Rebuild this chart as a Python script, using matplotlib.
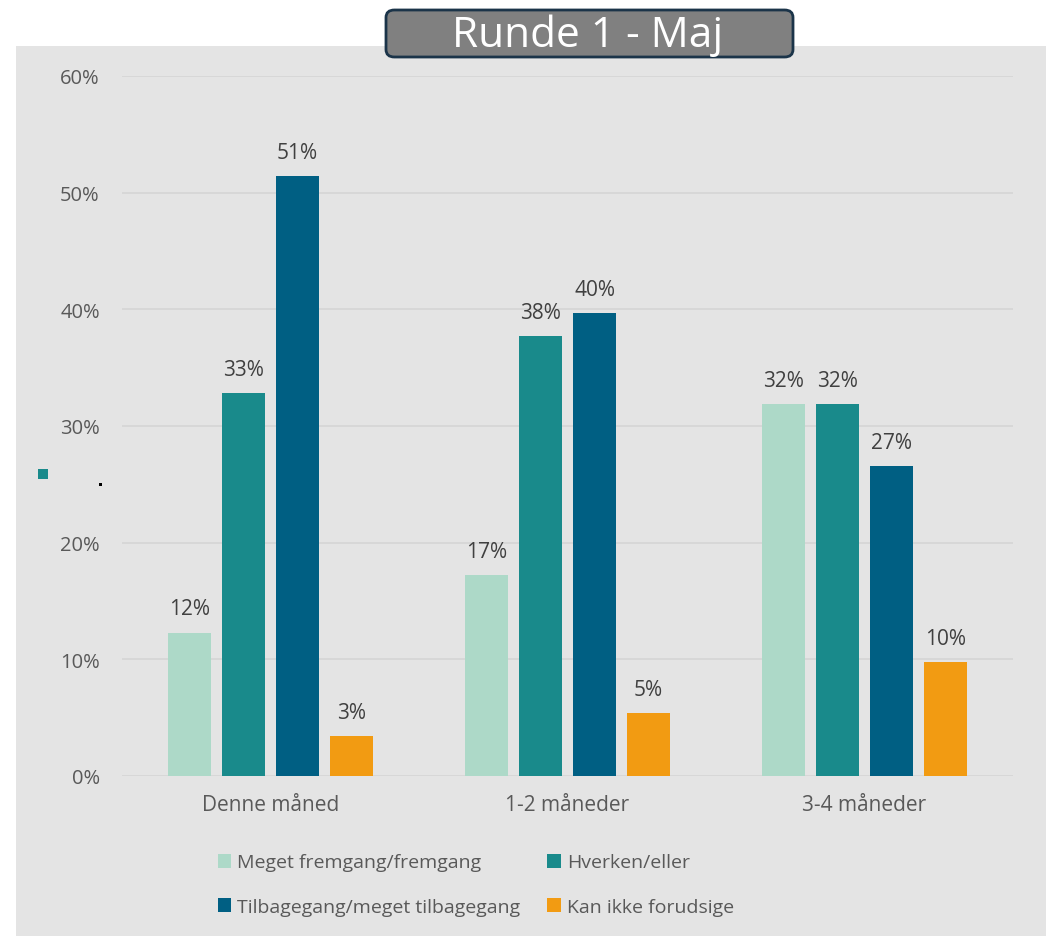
""" Runde 1 - Maj: grouped bar chart """

import numpy as np
import matplotlib
matplotlib.use('Agg')
from matplotlib import pyplot as plt
from matplotlib.patches import Rectangle, FancyBboxPatch

categories = ['Denne måned', '1-2 måneder', '3-4 måneder']
series_names = ['Meget fremgang/fremgang', 'Hverken/eller',
                'Tilbagegang/meget tilbagegang', 'Kan ikke forudsige']
fremgang = [12.3, 17.2, 31.9]
hverken = [32.8, 37.7, 31.9]
tilbagegang = [51.4, 39.7, 26.6]
kan_ikke = [3.4, 5.4, 9.8]
colors = ['#add9c8', '#198a8b', '#005f83', '#f29b12']
yticks = [0, 10, 20, 30, 40, 50, 60]

W, H = 1046, 937
plt.rcParams['font.family'] = ['Open Sans', 'DejaVu Sans']

fig = plt.figure(figsize=(W / 100, H / 100), dpi=100, facecolor='white')
# gray panel behind everything
fig.patches.append(Rectangle((16 / W, 0), 1 - 16 / W, 1 - 47 / H,
                             transform=fig.transFigure, facecolor='#e4e4e4',
                             edgecolor='none', zorder=-1))

ax = fig.add_axes([122 / W, 1 - 777 / H, (1013 - 122) / W, (777 - 77) / H])
ax.set_facecolor('none')
ax.set_zorder(1)

x = np.arange(len(categories))
width = 0.142
step = 0.182
all_series = [fremgang, hverken, tilbagegang, kan_ikke]
handles = []
for i, (vals, name, col) in enumerate(zip(all_series, series_names, colors)):
    pos = x + (i - 1.5) * step
    bars = ax.bar(pos, vals, width, color=col, label=name, zorder=3)
    handles.append(bars)
    for b, v in zip(bars, vals):
        ax.annotate('%d%%' % int(np.floor(v + 0.5)),
                    (b.get_x() + b.get_width() / 2, v),
                    xytext=(0, 13), textcoords='offset points',
                    ha='center', va='baseline', fontsize=15, color='#404040')

ax.set_xlim(-0.5, 2.5)
ax.set_ylim(0, 60)
ax.set_yticks(yticks)
ax.set_yticklabels(['%d%%' % t for t in yticks])
ax.yaxis.grid(True, color='#d6d6d6', linewidth=1.3, zorder=0)
ax.set_axisbelow(True)
ax.set_xticks(x)
ax.set_xticklabels(categories)
ax.tick_params(axis='y', length=0, pad=16, labelsize=14.5, labelcolor='#595959')
ax.tick_params(axis='x', length=0, pad=13, labelsize=15, labelcolor='#595959')
for s in ax.spines.values():
    s.set_visible(False)

# legend fills column-wise, so reorder to get rows like the original
order = [0, 2, 1, 3]
leg = fig.legend([handles[k] for k in order], [series_names[k] for k in order],
                 loc='upper left', bbox_to_anchor=(200 / W, 1 - 837 / H),
                 ncol=2, frameon=False, fontsize=14, labelcolor='#595959',
                 handlelength=0.7, handleheight=0.7, handletextpad=0.3,
                 columnspacing=1.4, labelspacing=1.35)

# title box
fig.patches.append(FancyBboxPatch((386 / W, 1 - 58 / H), (793 - 386) / W, 47 / H,
                                  boxstyle='round,pad=0,rounding_size=0.008',
                                  transform=fig.transFigure, facecolor='#808080',
                                  edgecolor='#1b3449', linewidth=2, zorder=5))
fig.text(588 / W, 1 - 36 / H, 'Runde 1 - Maj', ha='center', va='center',
         fontsize=30.5, color='white', zorder=6)

# stray marks on the left
fig.patches.append(Rectangle((38 / W, 1 - 480 / H), 10 / W, 10 / H,
                             transform=fig.transFigure, facecolor='#198a8b',
                             edgecolor='none', zorder=5))
fig.patches.append(Rectangle((99 / W, 1 - 487 / H), 3 / W, 3 / H,
                             transform=fig.transFigure, facecolor='black',
                             edgecolor='none', zorder=5))

fig.savefig('out.png', dpi=100)
